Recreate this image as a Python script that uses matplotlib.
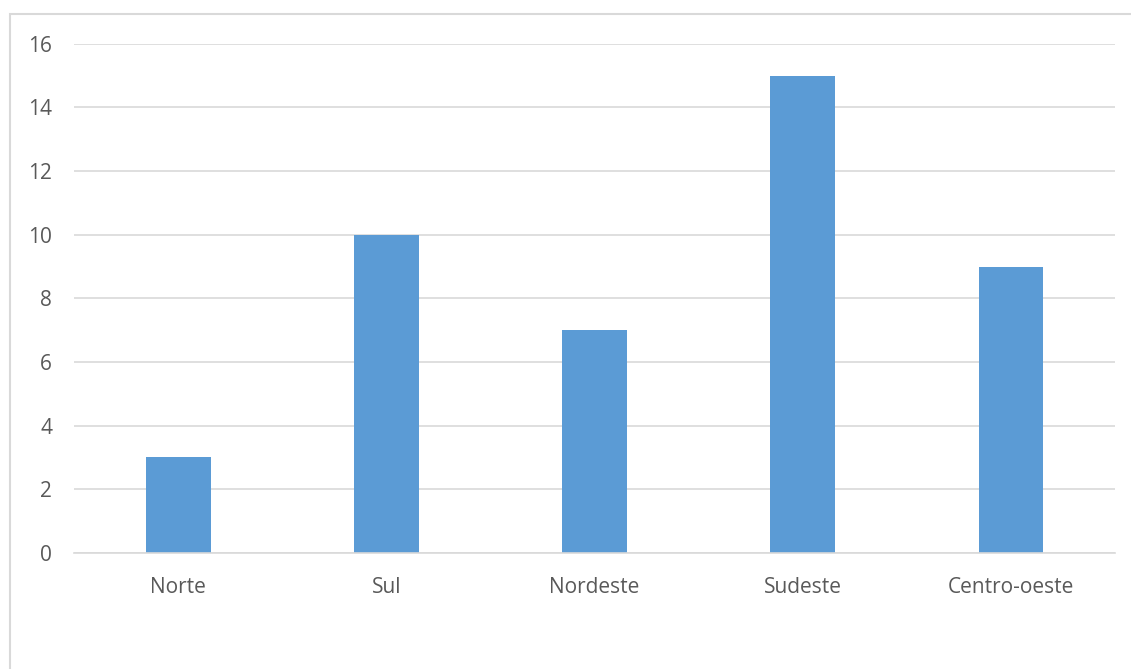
import matplotlib
matplotlib.use("Agg")
import matplotlib.pyplot as plt
from matplotlib.patches import Rectangle

regions = ["Norte", "Sul", "Nordeste", "Sudeste", "Centro-oeste"]
counts = [3, 10, 7, 15, 9]
yticks = [0, 2, 4, 6, 8, 10, 12, 14, 16]

bar_color = "#5B9BD5"
grid_color = "#D9D9D9"
text_color = "#595959"

plt.rcParams["font.family"] = ["Open Sans", "DejaVu Sans"]

fig = plt.figure(figsize=(11.31, 6.69), dpi=100)
ax = fig.add_axes([0.0657, 0.1734, 0.9201, 0.7613])

x = list(range(len(regions)))
ax.bar(x, counts, width=0.31, color=bar_color, zorder=3)

ax.set_xlim(-0.5, len(regions) - 0.5)
ax.set_ylim(0, 16)
ax.set_yticks(yticks)
ax.set_yticklabels([str(v) for v in yticks])
ax.set_xticks(x)
ax.set_xticklabels(regions)

ax.yaxis.grid(True, color=grid_color, linewidth=1.2, zorder=0)
ax.xaxis.grid(False)
for side in ("top", "right", "left"):
    ax.spines[side].set_visible(False)
ax.spines["bottom"].set_color(grid_color)
ax.spines["bottom"].set_linewidth(1.2)
ax.spines["bottom"].set_zorder(4)

ax.tick_params(axis="both", length=0, colors=text_color, labelsize=15)
ax.tick_params(axis="y", pad=16)
ax.tick_params(axis="x", pad=17)

# chart area border
fig.patches.append(Rectangle((10 / 1131, -0.1), 1.2, 1 - 14 / 669 + 0.1,
                             transform=fig.transFigure, fill=False,
                             edgecolor=grid_color, linewidth=1.5))

fig.savefig("out.png", dpi=100)
